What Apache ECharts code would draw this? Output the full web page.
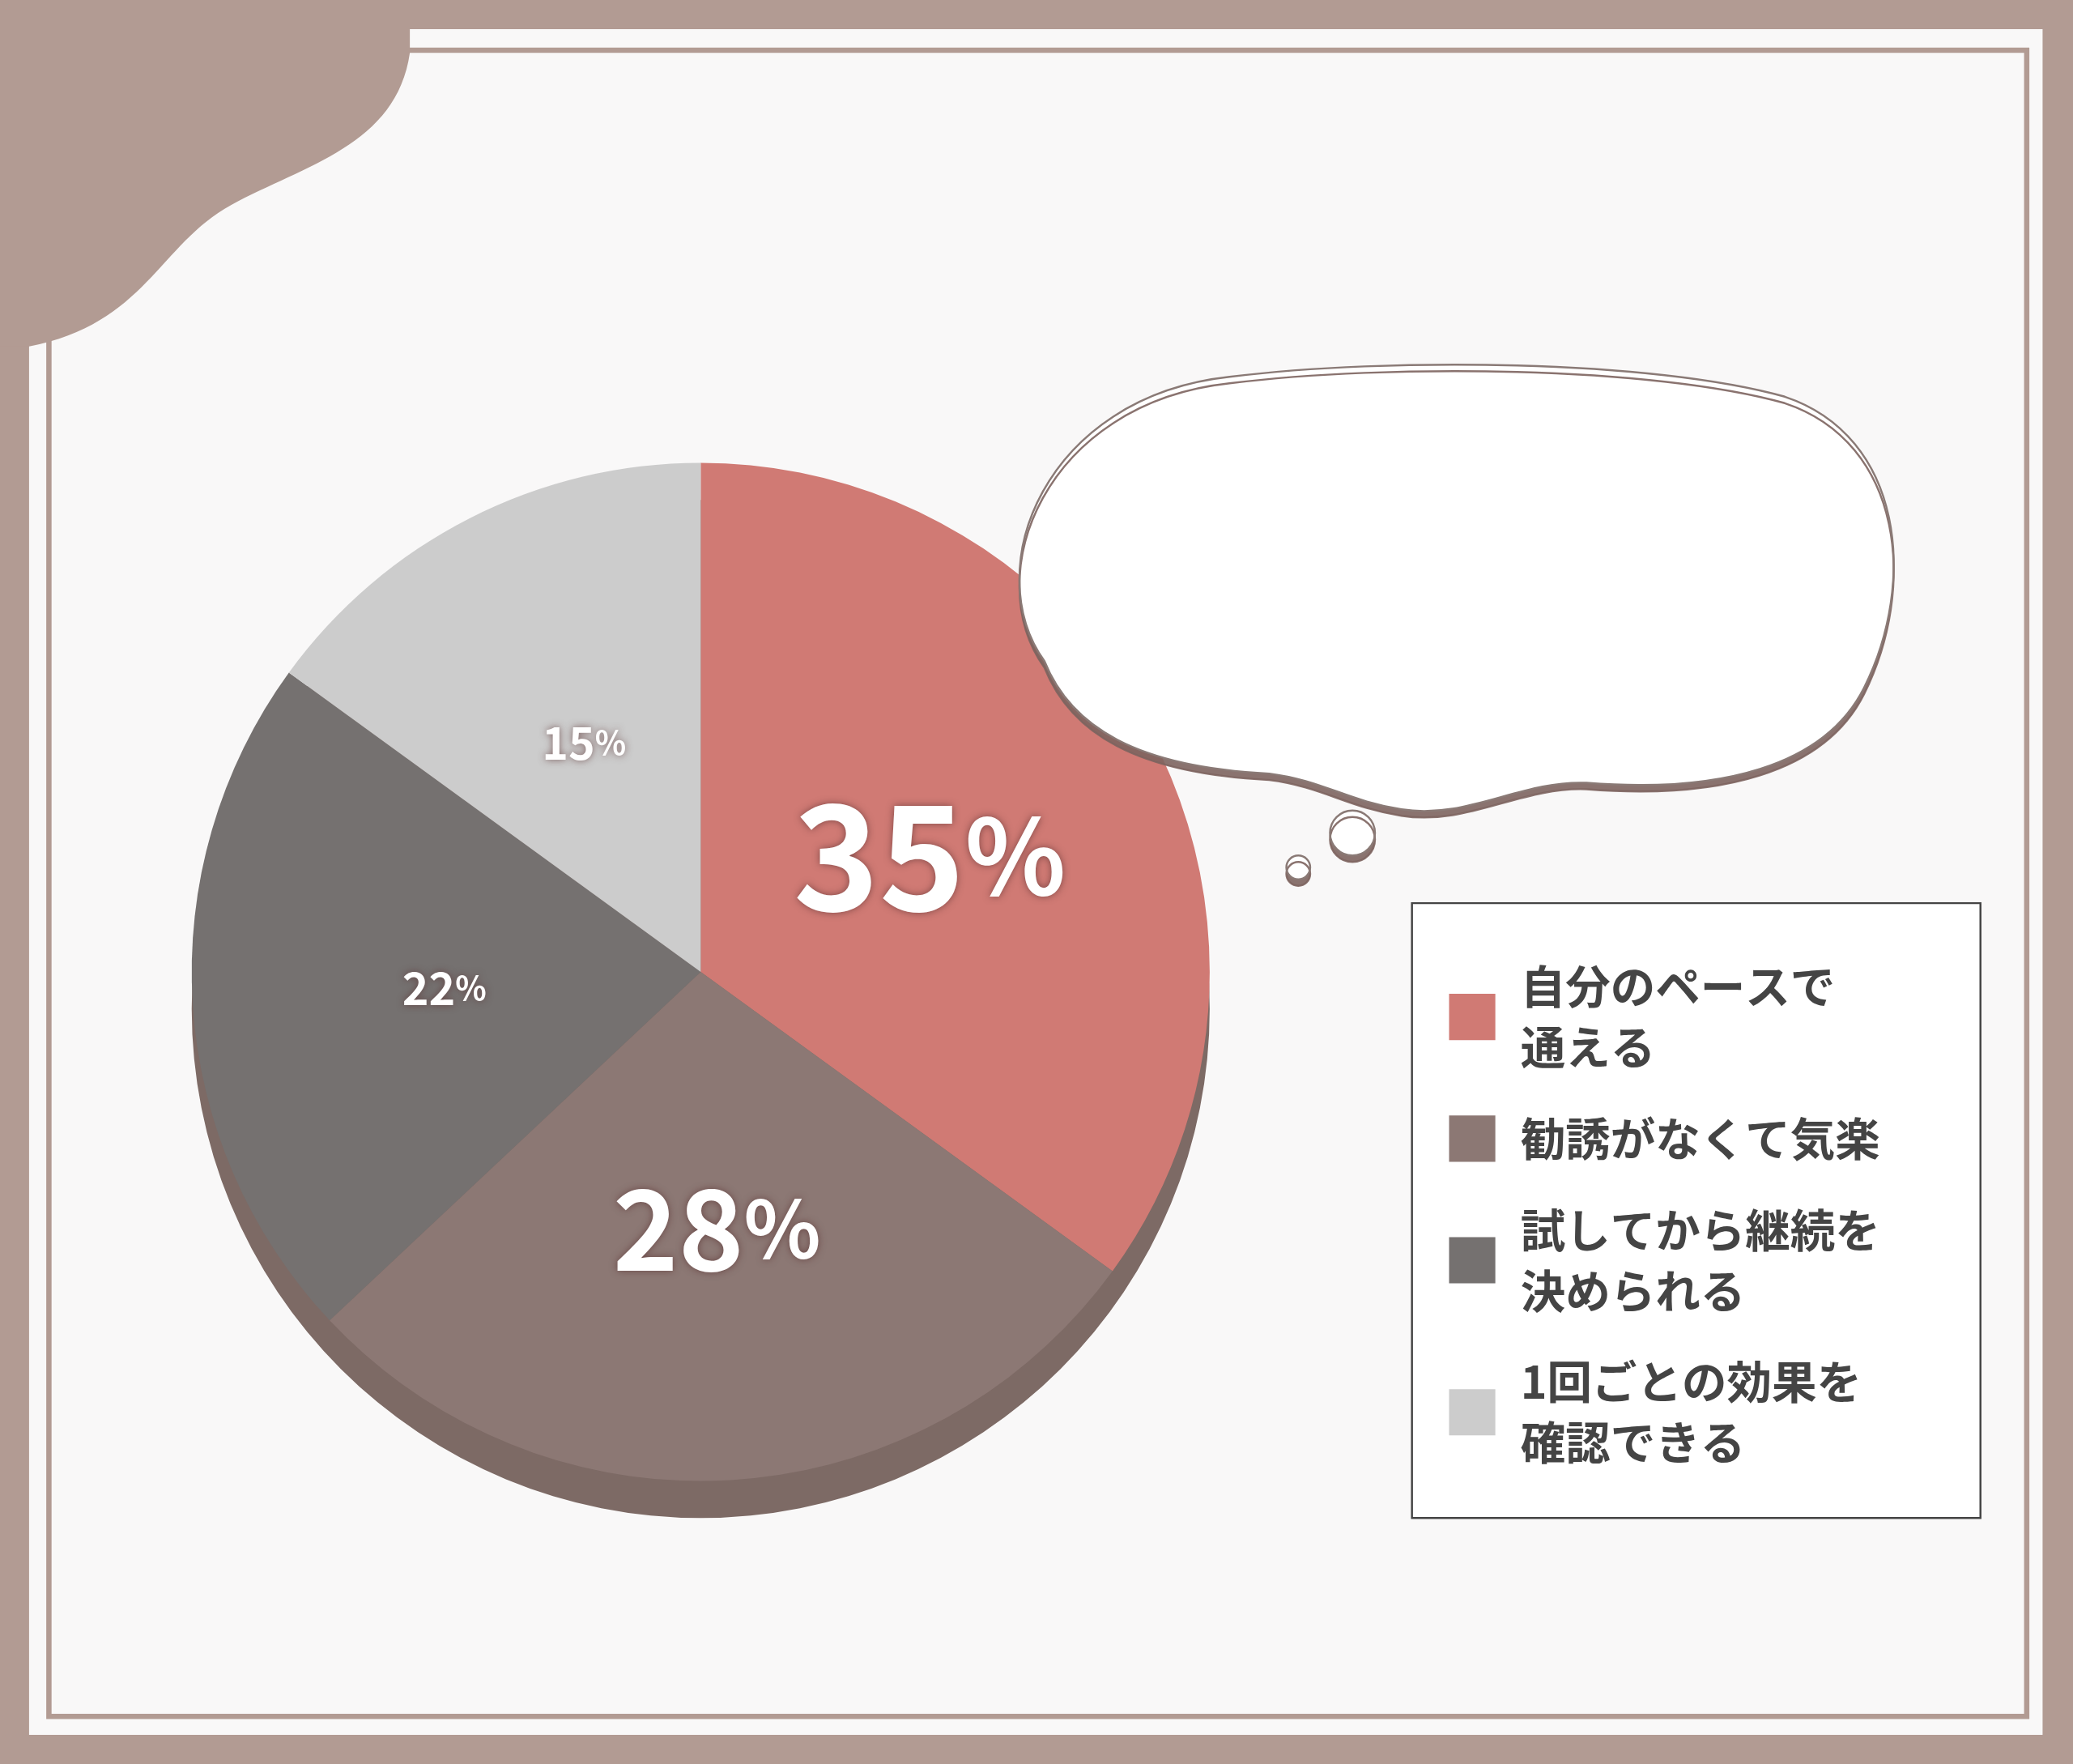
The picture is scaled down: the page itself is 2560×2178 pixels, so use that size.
<!DOCTYPE html>
<html><head><meta charset="utf-8">
<script src="https://cdn.jsdelivr.net/npm/echarts@6/dist/echarts.min.js"></script>
<style>
html,body{margin:0;padding:0;background:#b29b93;overflow:hidden;}
#main{width:2560px;height:2178px;}
</style></head>
<body><div id="main"></div>
<script>
// データ
const categories = ['自分のペースで\n通える', '勧誘がなくて気楽', '試してから継続を\n決められる', '1回ごとの効果を\n確認できる'];
const values = [35, 28, 22, 15];
const colors = ['#d07a74', '#8c7874', '#757170', '#cccccc'];
const labelSizes = [110, 84, 34, 34];
const titleLines = ['Q.都度払い医療脱毛で安さ以外に', '魅力を感じた点は？'];
const footerLines = ['調査日：2025年6月最新版　調査方法：CrowdWorks街頭インタビュー調査', '調査対象：都度払い医療脱毛を受けた、または検討中の女性82人'];

const FONT = '"Noto Sans CJK JP", sans-serif';
// 元画像(1568幅)の座標から実寸へ
const S = 2560 / 1568;
const k = v => v * S;

let myChart = echarts.init(document.getElementById('main'));

let pieData = values.map((v, i) => ({
	value: v,
	name: categories[i],
	itemStyle: {color: colors[i]},
	label: {
		formatter: '{n|' + v + '}{p|%}',
		rich: {
			n: {fontSize: k(labelSizes[i]), fontWeight: 'bold', color: '#fff', fontFamily: FONT,
				textShadowColor: 'rgba(90,50,50,0.7)', textShadowBlur: 10},
			p: {fontSize: k(labelSizes[i] * 0.72), fontWeight: 'bold', color: '#fff', fontFamily: FONT,
				textShadowColor: 'rgba(90,50,50,0.7)', textShadowBlur: 10}
		}
	}
}));

const bubbleShadow = {shadowColor: 'rgba(125,100,95,0.9)', shadowOffsetY: 8};

let option = {
	backgroundColor: '#b29b93',
	legend: {
		orient: 'vertical',
		left: k(1093), top: k(720),
		itemWidth: k(35), itemHeight: k(35), itemGap: k(23),
		icon: 'rect',
		data: categories,
		textStyle: {fontSize: k(34), lineHeight: k(46), color: '#444', fontFamily: FONT, fontWeight: 'bold', padding: [0, 0, 0, k(16)]}
	},
	graphic: [{
		type: 'group', scaleX: S, scaleY: S, z: 10,
		children: [
			{type: 'text', x: 40, y: 58, style: {text: '明石版', fill: '#fff', font: 'bold 50px ' + FONT}},
			{type: 'text', x: 318, y: 86, style: {text: titleLines[0], fill: '#3c3c3c', font: 'bold 74px ' + FONT}},
			{type: 'text', x: 418, y: 176, style: {text: titleLines[1], fill: '#3c3c3c', font: 'bold 74px ' + FONT}},
			{type: 'text', x: 1100, y: 365, style: {
				text: '{r|63%}{d|の方が}', align: 'center', verticalAlign: 'middle',
				rich: {r: {fontSize: 70, fontWeight: 'bold', fill: '#d07a74', fontFamily: FONT}, d: {fontSize: 44, fontWeight: 'bold', fill: '#3c3c3c', fontFamily: FONT}}
			}},
			{type: 'text', x: 1100, y: 440, style: {
				text: '{r|自由度}{d|や}{r|ストレスのなさ}', align: 'center', verticalAlign: 'middle',
				rich: {r: {fontSize: 48, fontWeight: 'bold', fill: '#d07a74', fontFamily: FONT}, d: {fontSize: 48, fontWeight: 'bold', fill: '#3c3c3c', fontFamily: FONT}}
			}},
			{type: 'text', x: 1100, y: 510, style: {text: 'を高く評価！', align: 'center', verticalAlign: 'middle', fill: '#3c3c3c', font: 'bold 46px ' + FONT}},
			{type: 'text', x: 235, y: 1193, style: {text: footerLines[0], fill: '#555', font: 'bold 30px ' + FONT}},
			{type: 'text', x: 235, y: 1241, style: {text: footerLines[1], fill: '#555', font: 'bold 30px ' + FONT}}
		]
	}],
	series: [
		{
			// 背景・枠・タブ・凡例枠
			type: 'custom', coordinateSystem: 'none', silent: true, z: 0,
			data: [0],
			renderItem: () => ({
				type: 'group', scaleX: S, scaleY: S,
				children: [
					{type: 'rect', shape: {x: 22, y: 22, width: 1523, height: 1290}, style: {fill: '#f9f8f8'}},
					{type: 'rect', shape: {x: 37, y: 38, width: 1496, height: 1260}, style: {fill: 'none', stroke: '#b29b93', lineWidth: 4}},
					{type: 'path', shape: {pathData: 'M0 0 L310 0 L310 40 C300 110 230 125 175 155 C120 185 110 245 22 262 L0 262 Z'}, style: {fill: '#b29b93'}},
					{type: 'rect', shape: {x: 1068, y: 683, width: 430, height: 465}, style: {fill: '#fff', stroke: '#444', lineWidth: 1.5}}
				]
			})
		},
		{
			// 立体感の影
			type: 'pie', silent: true, z: 1,
			center: [k(530), k(763)], radius: k(385),
			label: {show: false}, legendHoverLink: false,
			data: [{value: 1, name: '_', itemStyle: {color: '#7d6a65'}}]
		},
		{
			type: 'pie', z: 2,
			center: [k(530), k(735)], radius: k(385),
			startAngle: 90, clockwise: true,
			label: {show: true, position: 'inner'},
			labelLine: {show: false},
			data: pieData
		},
		{
			// 吹き出し
			type: 'custom', coordinateSystem: 'none', silent: true, z: 5,
			data: [0],
			renderItem: () => ({
				type: 'group', scaleX: S, scaleY: S,
				children: [
					{type: 'path', shape: {pathData: 'M790 500 C740 430 790 300 930 285 C1050 270 1250 272 1350 300 C1440 330 1450 440 1410 520 C1380 580 1300 600 1200 592 C1150 590 1110 620 1060 612 C1020 606 1000 590 960 585 C860 580 810 550 790 500 Z'},
						style: Object.assign({fill: '#fff', stroke: '#8a7a76', lineWidth: 1.5}, bubbleShadow)},
					{type: 'circle', shape: {cx: 1023, cy: 630, r: 17}, style: Object.assign({fill: '#fff', stroke: '#8a7a76', lineWidth: 1.5}, bubbleShadow)},
					{type: 'circle', shape: {cx: 982, cy: 656, r: 9}, style: Object.assign({fill: '#fff', stroke: '#8a7a76', lineWidth: 1.5}, bubbleShadow)}
				]
			})
		}
	]
};

myChart.setOption(option);
</script></body></html>
